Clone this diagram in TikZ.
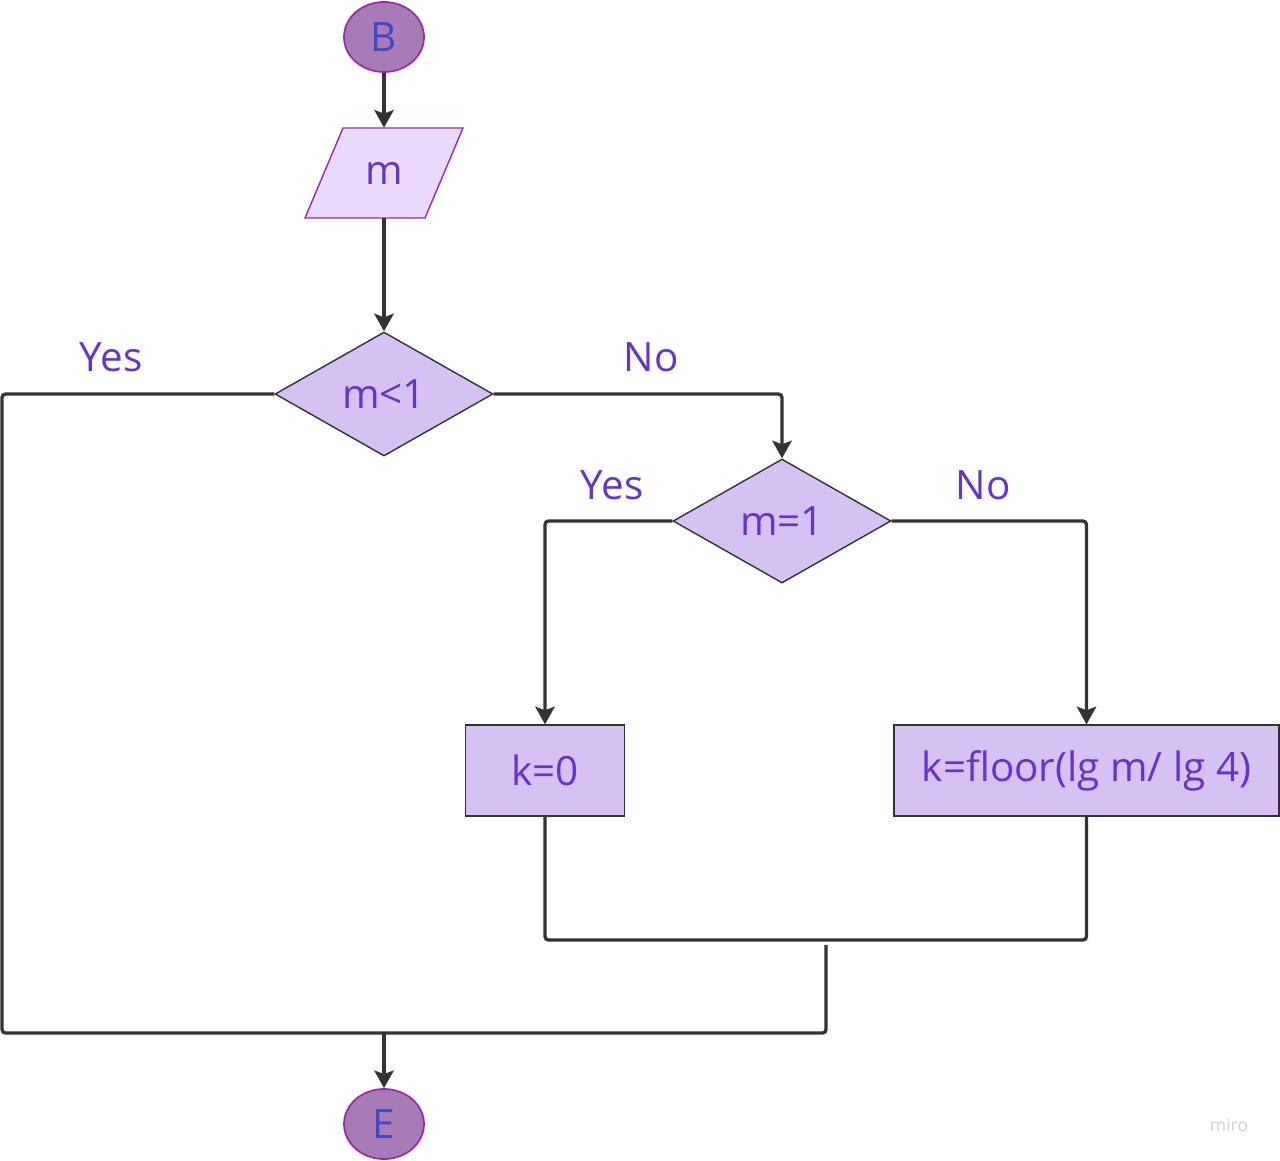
\documentclass[tikz,border=0pt]{standalone}
\usepackage{fontspec}
\setmainfont{Open Sans}
\usetikzlibrary{shapes.geometric,arrows.meta}
\definecolor{termfill}{HTML}{A77BB5}
\definecolor{termdraw}{HTML}{9C27B0}
\definecolor{termtext}{HTML}{3F48C8}
\definecolor{iofill}{HTML}{E8DAF8}
\definecolor{boxfill}{HTML}{D6C2F2}
\definecolor{txt}{HTML}{6633CC}
\definecolor{ln}{HTML}{333333}
\tikzset{
  bigtxt/.style={font=\fontsize{23}{27}\selectfont},
  term/.style={ellipse,draw=termdraw,fill=termfill,line width=1pt,minimum width=1.6cm,minimum height=1.4cm,inner sep=0pt,text=termtext,bigtxt},
  iobox/.style={rectangle,minimum width=2.4cm,minimum height=1.8cm,inner sep=0pt,text=txt,bigtxt},
  ioshape/.style={draw=termdraw,fill=iofill,line width=0.8pt},
  decide/.style={diamond,aspect=1.76,draw=ln,fill=boxfill,line width=0.8pt,minimum width=4.36cm,minimum height=2.48cm,inner sep=0pt,text=txt,bigtxt},
  proc/.style={rectangle,draw=ln,fill=boxfill,line width=0.8pt,minimum height=1.82cm,inner sep=0pt,text=txt,bigtxt},
  lbl/.style={text=txt,bigtxt},
  conn/.style={draw=ln,line width=1.9pt,rounded corners=2pt},
  arr/.style={conn,-{Stealth[length=10pt,width=11pt,inset=2pt]}},
}
\begin{document}
\begin{tikzpicture}[x=0.02cm,y=-0.02cm]
\useasboundingbox (0,0) rectangle (1280,1160);
\node[term] (B) at (384,37) {B};
\draw[ioshape] (343,128) -- (463,128) -- (425,218) -- (305,218) -- cycle;
\node[iobox] (m) at (384,173) {m};
\node[decide] (d1) at (384,394) {m<1};
\node[decide] (d2) at (782,521) {m=1};
\node[proc,minimum width=3.18cm] (k0) at (545,770.5) {k=0};
\node[proc,minimum width=7.7cm] (kf) at (1086.5,770.5) {k=floor(lg m/ lg 4)};
\node[term] (E) at (384,1124) {E};
\node[lbl] (y1) at (111,357) {Yes};
\node[lbl] (n1) at (651,357) {No};
\node[lbl] (y2) at (612,485) {Yes};
\node[lbl] (n2) at (983,485) {No};
\node[text=gray!35,font=\fontsize{10}{12}\selectfont] (wm) at (1229,1125) {miro};
\coordinate (jl) at (2,1033);
\coordinate (jm) at (384,1033);
\coordinate (jr) at (826,1033);
\coordinate (mt) at (826,945);
\coordinate (mbl) at (545,940);
\draw[arr] (B) -- (m);
\draw[arr] (m) -- (d1);
\draw[conn] (d1.west) -| (jl) -- (jm);
\draw[conn] (mt) -- (jr) -- (jm);
\draw[arr] (jm) -- (E);
\draw[arr] (d1.east) -| (d2.north);
\draw[arr] (d2.west) -| (k0.north);
\draw[arr] (d2.east) -| (kf.north);
\draw[conn] (k0.south) -- (mbl) -| (kf.south);
\end{tikzpicture}
\end{document}
